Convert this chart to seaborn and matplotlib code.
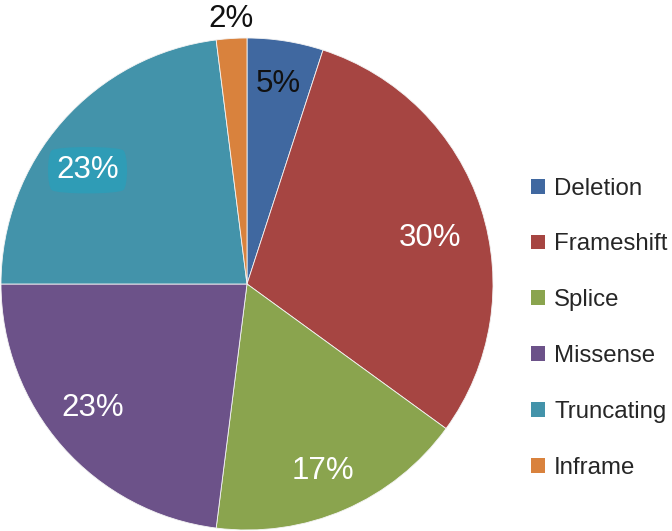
import matplotlib
matplotlib.use("Agg")
import matplotlib.pyplot as plt
import seaborn as sns

# data
categories = ["Deletion", "Frameshift", "Splice", "Missense", "Truncating", "Inframe"]
shares = [5, 30, 17, 23, 23, 2]
colors = ["#4068A0", "#A64542", "#8AA44E", "#6C5289", "#4393AA", "#D9823D"]
label_colors = ["#111111", "white", "white", "white", "white", "#111111"]
# small nudges (pixels, right / down) so labels sit where the original put them
label_nudge = [(0, -3), (-6, 16), (-3, 4), (-5, -8), (-10, 18), (1, 1)]

sns.set_style("white")
plt.rcParams["font.family"] = ["Liberation Sans", "DejaVu Sans"]

fig = plt.figure(figsize=(6.72, 5.31), dpi=100)
ax = fig.add_axes([1 / 672, 1 / 531, 492 / 672, 492 / 531])
R_PX = 246.0

wedges, texts, autotexts = ax.pie(
    shares,
    colors=sns.color_palette(colors),
    startangle=90,
    counterclock=False,
    autopct="%d%%",
    pctdistance=0.81,
    wedgeprops=dict(edgecolor="#f4f4f4", linewidth=0.6),
    textprops=dict(fontsize=22.5),
)

# the tiny Inframe slice gets its label outside
x, y = autotexts[-1].get_position()
autotexts[-1].set_position((x * 1.34, y * 1.34))

for t, c, (dx, dy) in zip(autotexts, label_colors, label_nudge):
    t.set_color(c)
    x, y = t.get_position()
    t.set_position((x + dx / R_PX, y - dy / R_PX))

# scribble behind the truncating label
autotexts[4].set_bbox(dict(boxstyle="round4,pad=0.3", fc="#2F9CB6", ec="none"))

ax.set_xlim(-1, 1)
ax.set_ylim(-1, 1)
ax.axis("off")

leg = fig.legend(
    wedges, categories,
    loc="upper left",
    bbox_to_anchor=(521 / 672, 1 - 168 / 531),
    frameon=False,
    fontsize=17.3,
    handlelength=0.58,
    handleheight=0.58,
    handletextpad=0.4,
    labelspacing=1.41,
    borderaxespad=0,
)
for h in leg.legend_handles:
    h.set_edgecolor("none")

fig.savefig("out.png", dpi=100)
